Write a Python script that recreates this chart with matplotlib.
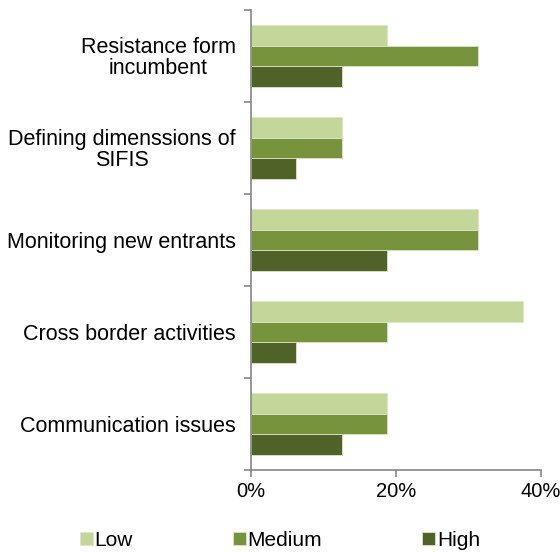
import matplotlib
matplotlib.use("Agg")
import matplotlib.pyplot as plt
import numpy as np

plt.rcParams["font.family"] = ["Liberation Sans", "DejaVu Sans"]

categories = [
    "Resistance form\nincumbent",
    "Defining dimenssions of\nSIFIS",
    "Monitoring new entrants",
    "Cross border activities",
    "Communication issues",
]
low = [18.75, 12.5, 31.25, 37.5, 18.75]
medium = [31.25, 12.5, 31.25, 18.75, 18.75]
high = [12.5, 6.25, 18.75, 6.25, 12.5]
series_names = ["Low", "Medium", "High"]
colors = ["#C4D79B", "#77933C", "#4F6228"]

fig = plt.figure(figsize=(5.6, 5.52), dpi=100)
ax = fig.add_axes([0.448, 0.1486, 0.518, 0.8333])

n = len(categories)
y = np.arange(n)[::-1].astype(float)  # first category at top
bh = 0.224
for i, (vals, name, c) in enumerate(zip([low, medium, high], series_names, colors)):
    ax.barh(y + (1 - i) * bh, vals, height=bh, color=c, edgecolor="#DCE6C6",
            linewidth=0.6, label=name)

ax.set_xlim(0, 40)
ax.set_ylim(-0.5, n - 0.5)
ax.set_xticks([0, 20, 40])
ax.set_xticklabels(["0%", "20%", "40%"], fontsize=14.5)
ax.set_yticks(y)
ax.set_yticklabels(categories, fontsize=15.5, multialignment="center", linespacing=1.0)
ax.set_yticks(np.arange(n + 1) - 0.5, minor=True)
ax.tick_params(axis="y", which="major", length=0, pad=11)
ax.tick_params(axis="y", which="minor", length=5, width=1.2, color="#868686")
ax.tick_params(axis="x", length=5, width=1.2, color="#868686", pad=4)

for s in ["top", "right"]:
    ax.spines[s].set_visible(False)
for s in ["left", "bottom"]:
    ax.spines[s].set_color("#868686")
    ax.spines[s].set_linewidth(1.2)

fig.legend(loc="lower center", bbox_to_anchor=(0.5, -0.03), ncol=3, frameon=False,
           fontsize=15, handlelength=0.6, handleheight=0.6, handletextpad=0.1,
           columnspacing=4.8)

fig.savefig("out.png", dpi=100)
